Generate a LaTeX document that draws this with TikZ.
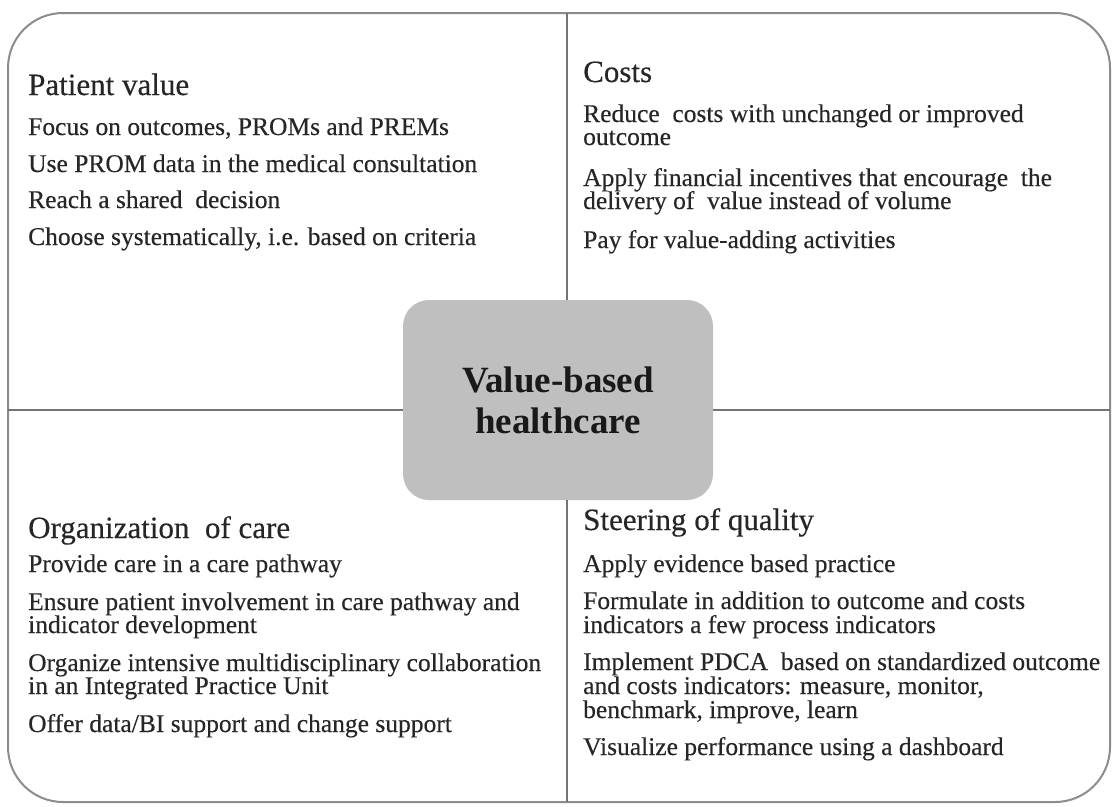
\documentclass[tikz,border=0pt]{standalone}
\usepackage{fontspec}
\setmainfont{Liberation Serif}
\newfontfamily\quadfont{Liberation Serif}[FakeBold=0.35]
\begin{document}
\begin{tikzpicture}[x=1pt,y=-1pt,
  frame/.style={draw=black!45, line width=2pt},
  divider/.style={draw=black!55, line width=1.4pt},
  hub/.style={fill=black!25, rounded corners=26pt, minimum width=310pt, minimum height=200pt, inner sep=0pt, align=center, font=\bfseries\fontsize{37}{41}\selectfont, text=black!90},
  head/.style={anchor=base west, inner sep=0pt, font=\quadfont\fontsize{31}{34}\selectfont, text=black!85},
  body/.style={anchor=base west, inner sep=0pt, font=\quadfont\fontsize{25.5}{23}\selectfont, text=black!85},
]
\useasboundingbox (0,0) rectangle (1113,806);
\draw[frame, rounded corners=55pt] (8,13) rectangle (1110,802);
\node[hub] (hub) at (558,400) {Value-based\\healthcare};
\coordinate (top) at (567,13);
\coordinate (bot) at (567,802);
\coordinate (lft) at (8,410);
\coordinate (rgt) at (1110,410);
\draw[divider] (top) -- (top |- hub.north);
\draw[divider] (bot |- hub.south) -- (bot);
\draw[divider] (lft) -- (lft -| hub.west);
\draw[divider] (hub.east |- rgt) -- (rgt);
% Patient value
\node[head] (pv0) at (28,95) {Patient value};
\node[body] (pv1) at (28,135) {Focus on outcomes, PROMs and PREMs};
\node[body] (pv2) at (28,172) {Use PROM data in the medical consultation};
\node[body] (pv3) at (28,208) {Reach a shared\ \ decision};
\node[body] (pv4) at (28,245) {Choose systematically, i.e. based on criteria};
% Costs
\node[head] (c0) at (583,82) {Costs};
\node[body] (c1) at (583,122) {Reduce\ \ costs with unchanged or improved};
\node[body] (c2) at (583,145) {outcome};
\node[body] (c3) at (583,186) {Apply financial incentives that encourage\ \ the};
\node[body] (c4) at (583,209) {delivery of\ \ value instead of volume};
\node[body] (c5) at (583,248) {Pay for value-adding activities};
% Organization of care
\node[head] (o0) at (28,538) {Organization\ \ of care};
\node[body] (o1) at (28,572) {Provide care in a care pathway};
\node[body] (o2) at (28,610) {Ensure patient involvement in care pathway and};
\node[body] (o3) at (28,633) {indicator development};
\node[body] (o4) at (28,671) {Organize intensive multidisciplinary collaboration};
\node[body] (o5) at (28,694) {in an Integrated Practice Unit};
\node[body] (o6) at (28,732) {Offer data/BI support and change support};
% Steering of quality
\node[head] (s0) at (583,530) {Steering of quality};
\node[body] (s1) at (583,572) {Apply evidence based practice};
\node[body] (s2) at (583,609) {Formulate in addition to outcome and costs};
\node[body] (s3) at (583,633) {indicators a few process indicators};
\node[body] (s4) at (583,670) {Implement PDCA\ \ based on standardized outcome};
\node[body] (s5) at (583,694) {and costs indicators: measure, monitor,};
\node[body] (s6) at (583,718) {benchmark, improve, learn};
\node[body] (s7) at (583,755) {Visualize performance using a dashboard};
\end{tikzpicture}
\end{document}
